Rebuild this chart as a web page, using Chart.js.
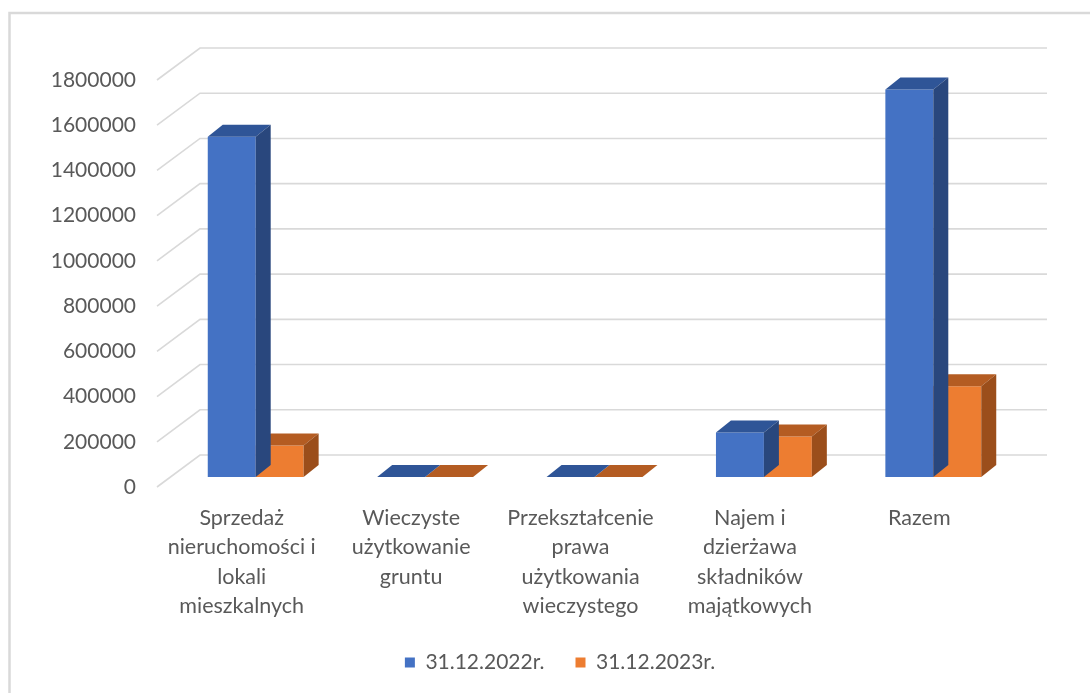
<!DOCTYPE html>
<html>
<head>
<meta charset="utf-8">
<script src="https://cdn.jsdelivr.net/npm/chart.js@4"></script>
<style>
  body { margin: 0; background: #fff; }
</style>
</head>
<body>
<canvas id="myChart" width="1090" height="693"></canvas>
<script>
// categories (multi-line x labels)
const categories = [
  ["Sprzedaż", "nieruchomości i", "lokali", "mieszkalnych"],
  ["Wieczyste", "użytkowanie", "gruntu"],
  ["Przekształcenie", "prawa", "użytkowania", "wieczystego"],
  ["Najem i", "dzierżawa", "składników", "majątkowych"],
  ["Razem"]
];
const seriesNames = ["31.12.2022r.", "31.12.2023r."];
const values2022 = [1505000, 0, 0, 197000, 1714000];
const values2023 = [139000, 0, 0, 179000, 401000];

const yMin = 0;
const yMax = 1800000;
const yStep = 200000;

// colours: front, top, side
const frontColors = ["#4472C4", "#ED7D31"];
const topColors = ["#2F5597", "#B45C22"];
const sideColors = ["#29477D", "#9B4E1B"];

// 3d offsets
const wall = { x: 43, y: -32 };
const shift = { x: 14, y: -10 };
const depth = { x: 15, y: -12 };

const textColor = "#595959";
const gridColor = "#d9d9d9";

const threeD = {
  id: "threeD",
  beforeDraw(chart) {
    const ctx = chart.ctx;
    // legend is centred a bit right of the canvas middle in the original
    chart.legend.left = 116;
    ctx.save();
    ctx.fillStyle = "#fff";
    ctx.fillRect(0, 0, chart.width, chart.height);
    // frame (top and left edge visible)
    ctx.strokeStyle = gridColor;
    ctx.lineWidth = 2.5;
    ctx.beginPath();
    ctx.moveTo(9.5, chart.height);
    ctx.lineTo(9.5, 13);
    ctx.lineTo(chart.width, 13);
    ctx.stroke();
    ctx.restore();
  },
  beforeDatasetsDraw(chart) {
    const ctx = chart.ctx;
    const area = chart.chartArea;
    const y = chart.scales.y;
    ctx.save();
    ctx.strokeStyle = gridColor;
    ctx.lineWidth = 1.6;
    y.ticks.forEach(t => {
      const py = y.getPixelForValue(t.value);
      ctx.beginPath();
      ctx.moveTo(area.left, py);
      ctx.lineTo(area.left + wall.x, py + wall.y);
      ctx.lineTo(area.right + wall.x, py + wall.y);
      ctx.stroke();
    });
    ctx.restore();
  },
  beforeDatasetDraw(chart) {
    chart.ctx.save();
    chart.ctx.translate(shift.x, shift.y);
  },
  afterDatasetDraw(chart, args) {
    const ctx = chart.ctx;
    const i = args.index;
    args.meta.data.forEach(bar => {
      const p = bar.getProps(["x", "y", "base", "width"], true);
      const xl = p.x - p.width / 2;
      const xr = p.x + p.width / 2;
      const top = Math.min(p.y, p.base);
      const bottom = Math.max(p.y, p.base);
      // top face
      ctx.fillStyle = topColors[i];
      ctx.beginPath();
      ctx.moveTo(xl, top);
      ctx.lineTo(xl + depth.x, top + depth.y);
      ctx.lineTo(xr + depth.x, top + depth.y);
      ctx.lineTo(xr, top);
      ctx.closePath();
      ctx.fill();
      // side face
      ctx.fillStyle = sideColors[i];
      ctx.beginPath();
      ctx.moveTo(xr, top);
      ctx.lineTo(xr + depth.x, top + depth.y);
      ctx.lineTo(xr + depth.x, bottom + depth.y);
      ctx.lineTo(xr, bottom);
      ctx.closePath();
      ctx.fill();
    });
    ctx.restore();
  }
};

const ctx = document.getElementById("myChart").getContext("2d");
const myChart = new Chart(ctx, {
  type: "bar",
  data: {
    labels: categories,
    datasets: [{
      label: seriesNames[0],
      data: values2022,
      backgroundColor: frontColors[0],
      borderWidth: 0
    }, {
      label: seriesNames[1],
      data: values2023,
      backgroundColor: frontColors[1],
      borderWidth: 0
    }]
  },
  options: {
    responsive: false,
    devicePixelRatio: 1,
    animation: false,
    categoryPercentage: 0.566,
    barPercentage: 1,
    layout: { padding: { left: 0, right: 86, top: 80, bottom: 10 } },
    scales: {
      x: {
        grid: { display: false },
        border: { display: false },
        ticks: {
          color: textColor,
          padding: 9,
          maxRotation: 0,
          autoSkip: false,
          font: { family: "Lato", size: 21.5, lineHeight: 1.35 }
        },
        afterFit(scale) { scale.height = 134; }
      },
      y: {
        min: yMin,
        max: yMax,
        grid: { display: false },
        border: { display: false },
        ticks: {
          stepSize: yStep,
          color: textColor,
          padding: 13,
          font: { family: "Lato", size: 21 },
          callback: v => String(v)
        },
        afterFit(scale) { scale.width = 157; }
      }
    },
    plugins: {
      tooltip: { enabled: false },
      legend: {
        position: "bottom",
        labels: {
          color: textColor,
          boxWidth: 10,
          boxHeight: 10,
          padding: 31,
          font: { family: "Lato", size: 21 }
        }
      }
    }
  },
  plugins: [threeD]
});
</script>
</body>
</html>
